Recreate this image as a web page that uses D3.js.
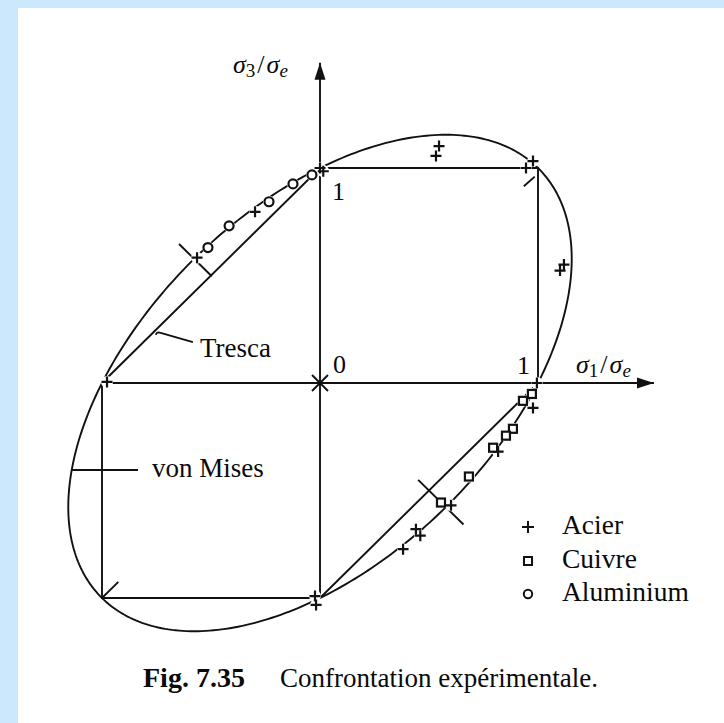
<!DOCTYPE html>
<html>
<head>
<meta charset="utf-8">
<script src="https://cdn.jsdelivr.net/npm/d3@7"></script>
<style>
  html, body { margin: 0; padding: 0; background: #fff; }
  svg { display: block; }
  text { font-family: "Liberation Serif", "Times New Roman", serif; fill: #0a0a0a; }
</style>
</head>
<body>
<script>
// Experimental yield points, normalised by the tensile yield stress (sigma1/sigma_e, sigma3/sigma_e)
const acierS1 = [0.00, 0.015, -0.298, -0.564, 0.546, 0.532, 0.977, 0.945, 1.119, 1.101, -0.977, -0.023, -0.018, 0.995, 0.977, 0.817, 0.601, 0.44, 0.46, 0.381];
const acierS3 = [1.00, 0.985, 0.796, 0.583, 1.102, 1.056, 1.032, 1.00, 0.551, 0.523, 0.005, -0.991, -1.032, 0.0, -0.116, -0.319, -0.569, -0.68, -0.71, -0.773];
const cuivreS1 = [0.972, 0.931, 0.885, 0.853, 0.794, 0.683, 0.555];
const cuivreS3 = [-0.051, -0.083, -0.213, -0.245, -0.301, -0.435, -0.556];
const aluS1 = [-0.037, -0.124, -0.234, -0.417, -0.514];
const aluS3 = [0.968, 0.926, 0.843, 0.731, 0.630];

// Tresca hexagon vertices
const trescaS1 = [1, 1, 0, -1, -1, 0];
const trescaS3 = [0, 1, 1, 0, -1, -1];

const legendLabels = ["Acier", "Cuivre", "Aluminium"];
const tickLabels = ["0", "1", "1"];

const W = 724, H = 723;
const ink = "#111";

const svg = d3.select("body").append("svg").attr("width", W).attr("height", H);
svg.append("rect").attr("width", W).attr("height", H).attr("fill", "#fff");
// page frame
svg.append("rect").attr("x", 0).attr("y", 0).attr("width", 18).attr("height", H).attr("fill", "#cce8fd");
svg.append("rect").attr("x", 0).attr("y", 0).attr("width", W).attr("height", 8).attr("fill", "#cce8fd");

const x = d3.scaleLinear().domain([-1, 1]).range([102, 538]);
const y = d3.scaleLinear().domain([-1, 1]).range([598, 168]);

const g = svg.append("g").attr("stroke", ink).attr("fill", "none").attr("stroke-width", 1.9);
const line = d3.line().x(d => x(d[0])).y(d => y(d[1]));

// von Mises ellipse: s1^2 - s1 s3 + s3^2 = 1
const ell = d3.range(0, 361, 1).map(a => {
  const t = a * Math.PI / 180;
  return [Math.cos(t) + Math.sin(t) / Math.sqrt(3), Math.cos(t) - Math.sin(t) / Math.sqrt(3)];
});
g.append("path").attr("d", line(ell));

// Tresca hexagon
const hex = trescaS1.map((s, i) => [s, trescaS3[i]]);
hex.push(hex[0]);
g.append("path").attr("d", line(hex));

// axes
const axMax1 = 1.532, axMax3 = 1.49;
g.append("path").attr("d", line([[-1, 0], [axMax1, 0]]));
g.append("path").attr("d", line([[0, -1], [0, axMax3]]));
svg.append("path")
  .attr("d", `M${x(axMax1)},${y(0)} l-17,-5.5 l0,11 Z`).attr("fill", ink);
svg.append("path")
  .attr("d", `M${x(0)},${y(axMax3)} l-5.5,17 l11,0 Z`).attr("fill", ink);

// origin cross
g.append("path").attr("d", `M${x(0)-8},${y(0)-8} L${x(0)+8},${y(0)+8} M${x(0)-8},${y(0)+8} L${x(0)+8},${y(0)-8}`);

// marks at pure shear and equibiaxial points
const ps = 1 / Math.sqrt(3);
g.append("path").attr("d", line([[-ps * 0.86, ps * 0.86], [-ps * 1.12, ps * 1.12]]));
g.append("path").attr("d", line([[ps * 0.78, -ps * 0.78], [ps * 1.14, -ps * 1.14]]));
g.append("path").attr("d", line([[0.935, 0.915], [0.985, 0.96]]));
g.append("path").attr("d", line([[-1, -1], [-0.925, -0.925]]));

// label leaders
const vmS3 = y.invert(470);
const vmS1 = (vmS3 - Math.sqrt(vmS3 * vmS3 - 4 * (vmS3 * vmS3 - 1))) / 2;
g.append("path").attr("d", line([[vmS1, vmS3], [x.invert(138), vmS3]]));
g.append("path").attr("d", `M${x(-0.583)},${y(0.19)} L${x(-0.735)},${y(0.234)} q-3,-1 -4,2`);

// data markers
const acier = acierS1.map((s, i) => [s, acierS3[i]]);
const cuivre = cuivreS1.map((s, i) => [s, cuivreS3[i]]);
const alu = aluS1.map((s, i) => [s, aluS3[i]]);
const all = acier.concat(cuivre, alu);

svg.append("g").selectAll("circle").data(all).join("circle")
  .attr("cx", d => x(d[0])).attr("cy", d => y(d[1])).attr("r", 6).attr("fill", "#fff");

const plusPath = (cx, cy, r) => `M${cx - r},${cy} L${cx + r},${cy} M${cx},${cy - r} L${cx},${cy + r}`;
const mk = svg.append("g").attr("stroke", ink).attr("stroke-width", 2.2);
mk.selectAll("path.acier").data(acier).join("path").attr("class", "acier")
  .attr("d", d => plusPath(x(d[0]), y(d[1]), 5.5)).attr("fill", "none");
mk.selectAll("rect.cuivre").data(cuivre).join("rect").attr("class", "cuivre")
  .attr("x", d => x(d[0]) - 4).attr("y", d => y(d[1]) - 4).attr("width", 8).attr("height", 8)
  .attr("fill", "#fff");
mk.selectAll("circle.alu").data(alu).join("circle").attr("class", "alu")
  .attr("cx", d => x(d[0])).attr("cy", d => y(d[1])).attr("r", 4.5).attr("fill", "#fff");

// axis tick labels
svg.append("text").attr("x", x(0) + 13).attr("y", y(0) - 10).attr("font-size", 26).text(tickLabels[0]);
svg.append("text").attr("x", x(0) + 12).attr("y", y(1) + 32).attr("font-size", 26).text(tickLabels[1]);
svg.append("text").attr("x", x(1) - 21).attr("y", y(0) - 9).attr("font-size", 26).text(tickLabels[2]);

// axis titles
function sigmaLabel(px, py, sub) {
  const t = svg.append("text").attr("x", px).attr("y", py).attr("font-size", 26);
  t.append("tspan").attr("font-style", "italic").text("σ");
  t.append("tspan").attr("font-size", 19).attr("dy", 4).text(sub);
  t.append("tspan").attr("dy", -4).attr("dx", 2).text("/");
  t.append("tspan").attr("font-style", "italic").attr("dx", 2).text("σ");
  t.append("tspan").attr("font-style", "italic").attr("font-size", 19).attr("dy", 4).text("e");
}
sigmaLabel(233, 73, "3");
sigmaLabel(576, 373, "1");

// curve labels
svg.append("text").attr("x", 200).attr("y", 357).attr("font-size", 27).text("Tresca");
svg.append("text").attr("x", 152).attr("y", 477).attr("font-size", 27).text("von Mises");

// legend
const lx = 528, ly = [527, 561, 594];
const lg = svg.append("g").attr("stroke", ink).attr("stroke-width", 2).attr("fill", "#fff");
lg.append("path").attr("d", plusPath(lx, ly[0], 6)).attr("fill", "none");
lg.append("rect").attr("x", lx - 4).attr("y", ly[1] - 4).attr("width", 8).attr("height", 8);
lg.append("circle").attr("cx", lx).attr("cy", ly[2]).attr("r", 4.2);
svg.append("g").selectAll("text").data(legendLabels).join("text")
  .attr("x", 562).attr("y", (d, i) => ly[i] + 7).attr("font-size", 27.5).text(d => d);

// caption
svg.append("text").attr("x", 143).attr("y", 687).attr("font-size", 28).attr("font-weight", "bold").text("Fig. 7.35");
svg.append("text").attr("x", 280).attr("y", 687).attr("font-size", 27).text("Confrontation expérimentale.");
</script>
</body>
</html>
